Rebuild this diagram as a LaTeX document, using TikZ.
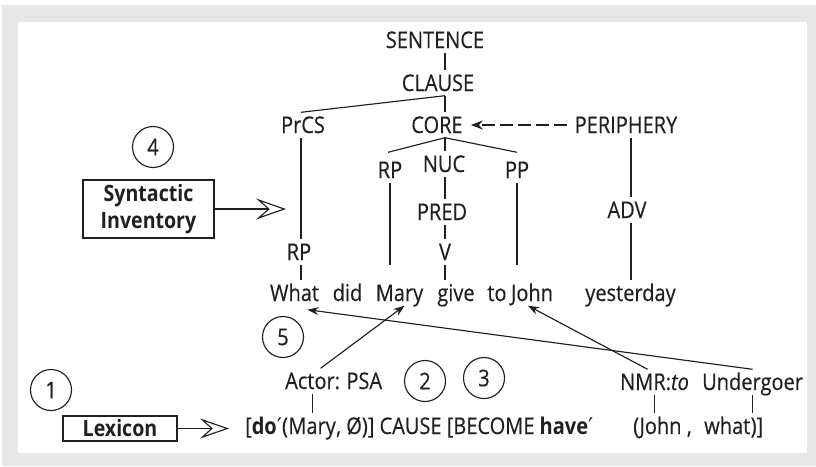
\documentclass[tikz,border=0pt]{standalone}
\usepackage{fontspec}
\setmainfont{Open Sans}[FakeStretch=0.87, UprightFeatures={FakeBold=0.35}, ItalicFeatures={FakeBold=0.35}]
\newfontfamily\primefont{DejaVu Sans}
\usetikzlibrary{arrows.meta,calc}
\definecolor{ink}{HTML}{231F20}
\definecolor{framegray}{HTML}{E6E7E8}
\newcommand{\pr}{{\primefont ′}}
\begin{document}
\begin{tikzpicture}[x=1pt,y=-1pt,
  every node/.style={font=\fontsize{23}{27}\selectfont, text=ink},
  lbl/.style={inner xsep=1pt, inner ysep=4.5pt, text height=16pt, text depth=0pt, anchor=base},
  fword/.style={inner xsep=0pt, inner ysep=4.5pt, text height=16pt, text depth=0pt, anchor=base west},
  edge/.style={draw=ink, line width=1.15pt},
  ptr/.style={edge, -{Stealth[length=11pt,width=8pt]}},
  openptr/.style={edge, -{Stealth[open,length=30pt,width=21pt,inset=12pt]}},
  numcirc/.style={draw=ink, line width=1.15pt, circle, minimum size=41pt, inner sep=0pt},
  srcbox/.style={draw=ink, line width=1.15pt, font=\fontsize{22.5}{27}\selectfont\bfseries, align=center, inner sep=0pt},
]
% page and frame
\useasboundingbox (0,0) rectangle (816,466);
\fill[white] (0,0) rectangle (816,466);
\fill[framegray] (2,5) rectangle (816,466);
\fill[white] (18,22) rectangle (807,453);

% vertical spines of the tree
\coordinate (spine) at (445,0);
\coordinate (pcol) at (301,0);
\coordinate (pspine) at (631,0);

% tree labels
\node[lbl] (sentence) at (435,48) {SENTENCE};
\node[lbl] (clause) at (438,91) {CLAUSE};
\node[lbl] (prcs) at (303,133) {PrCS};
\node[lbl] (core) at (437,133) {CORE};
\node[lbl] (periphery) at (626,133) {PERIPHERY};
\node[lbl] (rpcore) at (390,178) {RP};
\node[lbl] (nuc) at (444,172) {NUC};
\node[lbl] (pp) at (517,178) {PP};
\node[lbl] (pred) at (442,220) {PRED};
\node[lbl] (v) at (445,260) {V};
\node[lbl] (rpprcs) at (299,260) {RP};
\node[lbl] (adv) at (627,218) {ADV};

% the sentence
\node[lbl] (wWhat) at (294.5,301) {What};
\node[lbl] (wDid) at (347.5,301) {did};
\node[lbl] (wMary) at (399.5,301) {Mary};
\node[lbl] (wGive) at (456,301) {give};
\node[lbl] (wTo) at (497,301) {to};
\node[lbl] (wJohn) at (532,301) {John};
\node[lbl] (wYesterday) at (630.5,301) {yesterday};

% tree edges
\draw[edge] (sentence.south -| spine) -- (clause.north -| spine);
\draw[edge] (clause.south -| spine) -- (core.north -| spine);
\draw[edge] (clause.south -| spine) -- (prcs.north -| pcol);
\draw[edge] (core.south -| spine) -- (nuc.north -| spine);
\draw[edge] (core.south -| spine) -- ($(rpcore.north)+(-2,-5)$);
\draw[edge] (core.south -| spine) -- ($(pp.north)+(0,-5)$);
\draw[edge] (nuc.south -| spine) -- (pred.north -| spine);
\draw[edge] (pred.south -| spine) -- (v.north -| spine);
\draw[edge] (v.south -| spine) -- (wGive.north -| spine);
\draw[edge] (prcs.south -| pcol) -- (rpprcs.north -| pcol);
\draw[edge] (rpprcs.south -| pcol) -- (wWhat.north -| pcol);
\draw[edge] (rpcore.south) -- (rpcore.south |- rpprcs.south);
\draw[edge] (pp.south) -- (pp.south |- rpprcs.south);
\draw[edge] (periphery.south -| pspine) -- (adv.north -| pspine);
\draw[edge] (adv.south -| pspine) -- (wYesterday.north -| pspine);
\draw[edge, dash pattern=on 13pt off 5pt, -{Stealth[length=12pt,width=9pt]},
      shorten <=6pt, shorten >=7pt] (periphery.west) -- (core.east);

% inventory and lexicon
\node[srcbox, minimum width=131pt, minimum height=58pt] (syn) at (148.5,209) {Syntactic\\Inventory};
\coordinate (synTip) at (286,209);
\draw[openptr] (syn.east) -- (synTip);

\node[srcbox, minimum width=114pt, minimum height=25pt] (lex) at (120,428.5) {Lexicon};
\coordinate (lexTip) at (229,0);
\draw[edge, -{Stealth[open,length=29pt,width=20pt,inset=11pt]}] (lex.east) -- (lex.east -| lexTip);

% logical structure
\node[fword] (f1) at (245,434) {[\textbf{do}\pr(};
\node[fword] (fMary) at (f1.base east) {Mary};
\node[fword] (f3) at (fMary.base east) {, Ø)] CAUSE [BECOME \textbf{have}\pr};
\node[fword] (f4) at (633,434) {(};
\node[fword] (fJohn) at (f4.base east) {John};
\node[fword] (f6) at (fJohn.base east) {\kern5pt,\kern12pt\null};
\node[fword] (fWhat) at (f6.base east) {what};
\node[fword] (f8) at (fWhat.base east) {)]};

% semantic roles
\node[fword] (actor) at (285,389) {Actor:};
\node[fword] (psa) at ($(actor.base east)+(6,0)$) {PSA};
\node[fword] (nmr) at (620,390) {NMR:\textit{to}};
\node[fword] (und) at (702,390) {Undergoer};

\draw[edge] (actor.south) -- (actor.south |- fMary.north);
\draw[edge] (nmr.south) -- (nmr.south |- fJohn.north);
\draw[edge] (und.south) -- (und.south |- fWhat.north);

% linking arrows
\draw[ptr] ($(actor.north)+(8,0)$) -- ($(wMary.south)+(5,0)$);
\draw[ptr] ($(nmr.north)+(-7,0)$) -- ($(wJohn.south)+(-4,0)$);
\draw[ptr] (und.north) -- ($(wWhat.south)+(13,4)$);

% step numbers
\node[numcirc] (c1) at (51,390) {1};
\node[numcirc] (c2) at (425,381) {2};
\node[numcirc] (c3) at (484,378) {3};
\node[numcirc] (c4) at (153,147) {4};
\node[numcirc] (c5) at (283,337) {5};
\end{tikzpicture}
\end{document}
